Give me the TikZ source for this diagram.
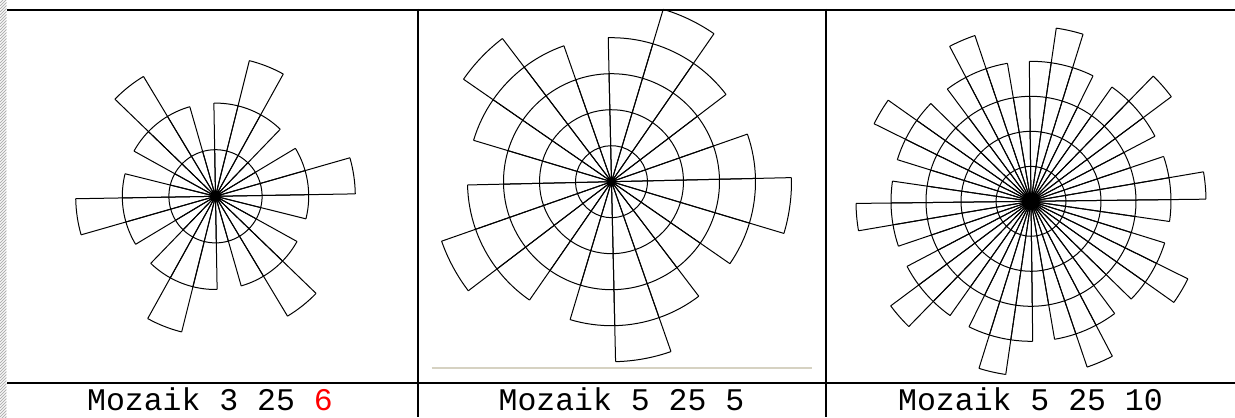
\documentclass[tikz,border=0pt]{standalone}
\usepackage{fontspec}
\setmonofont{Liberation Mono}
\usepackage{tikz}

\tikzset{
  rule/.style={line width=2bp},
  ring/.style={line width=1bp,line join=round},
  caption/.style={anchor=base,inner sep=0pt,font=\ttfamily\fontsize{31.5bp}{34bp}\selectfont}
}

\begin{document}
\begin{tikzpicture}[x=1bp,y=1bp]
\path[use as bounding box] (0,0) rectangle (1235,417);
% page edge
\begin{scope}
\clip (0,0) rectangle (6.5,417);
\foreach \y in {-9,-6,...,420} \draw[black!30,line width=1bp] (0,\y)--(6.5,\y+6.5);
\end{scope}
% table
\draw[rule] (7,407)--(1235,407) (7,34)--(1235,34);
\draw[rule] (418.3,408)--(418.3,0) (826.3,408)--(826.3,0);
\draw[line width=1.8bp,color={rgb,255:red,214;green,210;blue,194}] (431.7,49.3)--(811.7,49.3);
% mosaics: center, ring, n, k, shift, rotation
\foreach \p/\cx/\cy/\rr/\n/\k/\s/\rot in {1/215.5/220.7/46.6/3/6/0/1,2/611.5/235.3/36/5/5/1/1.3,3/1031/215.7/35/5/10/0/.7}{
  \coordinate (mz\p) at (\cx,\cy);
  \pgfmathtruncatemacro\m{4*\k}
  \pgfmathsetmacro\w{360/\m}
  \foreach \i in {1,...,\m}{
    \pgfmathsetmacro\a{\rot+(\i-1)*\w}
    \pgfmathtruncatemacro\mm{mod(\i-1+\s,4)}
    \pgfmathtruncatemacro\h{\n-min(\mm,4-\mm)}
    \pgfmathsetmacro\L{\h*\rr}
    \draw[ring] (mz\p) -- ++(\a:\L bp) (mz\p) -- ++(\a+\w:\L bp);
    \foreach \j in {1,...,\h}{
      \pgfmathsetmacro\r{\j*\rr}
      \draw[ring] (mz\p) ++(\a:\r bp) arc[start angle=\a,delta angle=\w,radius=\r bp];
    }
  }
  \fill (mz\p) circle[radius=3bp];
}
% captions
\node[caption] (cap1) at (210,6.3) {Mozaik 3 25 \textcolor{red}{6}};
\node[caption] (cap2) at (621.5,6.3) {Mozaik 5 25 5};
\node[caption] (cap3) at (1030.5,6.3) {Mozaik 5 25 10};
\end{tikzpicture}
\end{document}
